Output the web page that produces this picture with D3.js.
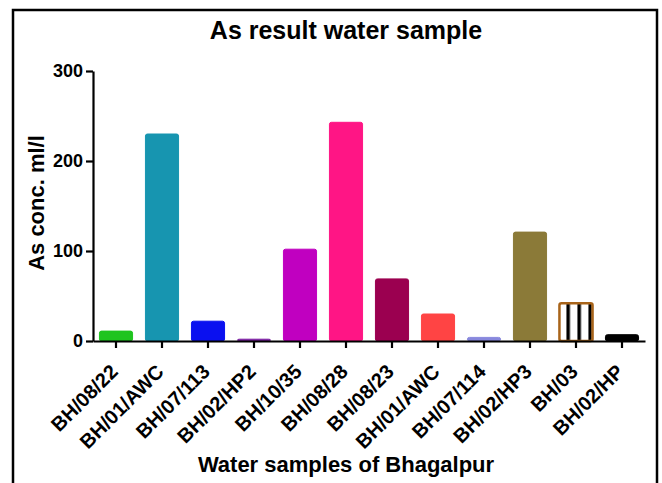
<!DOCTYPE html>
<html><head><meta charset="utf-8">
<script src="https://cdn.jsdelivr.net/npm/d3@7"></script>
<style>body{margin:0;background:#fff;}svg{display:block;font-family:"Liberation Sans",Arial,sans-serif;}</style>
</head><body>
<svg id="c" width="662" height="483"></svg>
<script>
const categories = ["BH/08/22","BH/01/AWC","BH/07/113","BH/02/HP2","BH/10/35","BH/08/28","BH/08/23","BH/01/AWC ","BH/07/114","BH/02/HP3","BH/03","BH/02/HP"];
const values = [11, 230, 22, 2, 102, 243, 69, 30, 4, 121, 42, 7];
const colors = ["#1fc41f","#1795b0","#0a10f0","#7b1fa2","#c000c0","#ff1585","#9b0050","#ff4444","#8888dd","#8b7a38","#ffffff","#000000"];
const strokes = ["#1fc41f","#1795b0","#0a10f0","#7b1fa2","#c000c0","#ff1585","#9b0050","#ff4444","#8888dd","#8b7a38","#a8641a","#000000"];
const yTicks = [0, 100, 200, 300];

const svg = d3.select("#c");
svg.append("rect").attr("x",13).attr("y",10).attr("width",644).attr("height",490)
  .attr("fill","none").attr("stroke","#000").attr("stroke-width",2.5);

const x = d3.scaleBand().domain(categories).range([93,645]).paddingInner(0.28).paddingOuter(0.14);
const y = d3.scaleLinear().domain([0,300]).range([341,71]);

const defs = svg.append("defs");
const pat = defs.append("pattern").attr("id","stripes").attr("patternUnits","userSpaceOnUse")
  .attr("width",11).attr("height",10).attr("x",x("BH/03")+3);
pat.append("rect").attr("width",11).attr("height",10).attr("fill","#fff");
pat.append("rect").attr("x",4).attr("width",3.5).attr("height",10).attr("fill","#000");

svg.append("g").selectAll("rect").data(categories).join("rect")
  .attr("x",d=>x(d)).attr("width",x.bandwidth())
  .attr("y",(d,i)=>y(values[i])).attr("height",(d,i)=>y(0)-y(values[i]))
  .attr("rx",2)
  .attr("fill",(d,i)=>d==="BH/03" ? "url(#stripes)" : colors[i])
  .attr("stroke",(d,i)=>strokes[i]).attr("stroke-width",(d,i)=>d==="BH/03"?2.5:1);

const ya = svg.append("g").attr("transform","translate(93,0)")
  .call(d3.axisLeft(y).tickValues(yTicks).tickSize(7).tickPadding(3).tickSizeOuter(0));
ya.select(".domain").attr("stroke-width",2.2);
ya.selectAll(".tick line").attr("stroke-width",2.2);
ya.selectAll("text").attr("font-size",18).attr("font-weight","bold").attr("fill","#000");

const xa = svg.append("g").attr("transform","translate(0,341)")
  .call(d3.axisBottom(x).tickSize(7).tickSizeOuter(0).tickPadding(4));
xa.select(".domain").attr("stroke-width",2.2);
xa.selectAll(".tick line").attr("stroke-width",2.2);
xa.selectAll("text").attr("font-size",20).attr("font-weight","bold").attr("fill","#000")
  .attr("text-anchor","end").attr("x",0).attr("y",0).attr("dy",0)
  .attr("transform","translate(3,32) rotate(-45)");

svg.append("text").attr("x",346).attr("y",39).attr("text-anchor","middle")
  .attr("font-size",25).attr("font-weight","bold").text("As result water sample");
svg.append("text").attr("transform","translate(44,203) rotate(-90)").attr("text-anchor","middle")
  .attr("font-size",22).attr("font-weight","bold").text("As conc. ml/l");
svg.append("text").attr("x",346).attr("y",472).attr("text-anchor","middle")
  .attr("font-size",22).attr("font-weight","bold").text("Water samples of Bhagalpur");
</script>
</body></html>
